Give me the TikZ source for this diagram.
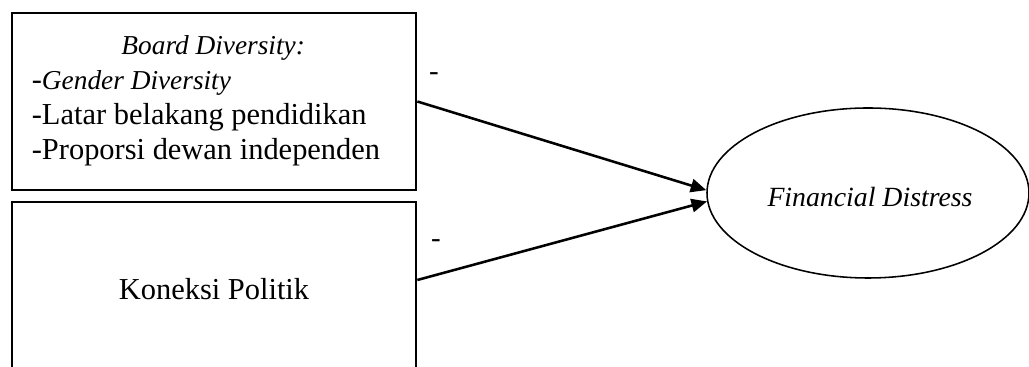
\documentclass[tikz,border=0pt]{standalone}
\usepackage{fontspec}
\setmainfont{Liberation Serif}
\usetikzlibrary{arrows.meta,shapes.geometric}
\newcommand\px{0.45pt}
\newcommand\itx[1]{{\fontsize{12.3}{15.75}\selectfont\itshape #1}}
\tikzset{
  varbox/.style={draw, line width=1.2pt, minimum width=404*\px, minimum height=177*\px, inner sep=0pt},
  latent/.style={draw, ellipse, line width=0.7pt, minimum width=322*\px, minimum height=170*\px, inner sep=0pt},
  path arrow/.style={line width=1.15pt, -{Triangle[length=7pt, width=6pt]}},
  txt/.style={font=\fontsize{13.7}{15.85}\selectfont, inner sep=0pt},
  sign/.style={font=\fontsize{13}{14}\selectfont, inner sep=0pt}
}
\begin{document}
\begin{tikzpicture}[x=\px, y=\px]
\clip (0,0) rectangle (1029,367);
% independent variables
\node[varbox] (bd) at (214,265.5) {};
\node[txt, align=left] (bdtext) at (206,267) {%
  \begin{tabular}{@{}l@{}}
  \multicolumn{1}{@{\hspace{6.5pt}}c@{}}{\itx{Board Diversity:}}\\
  -\itx{Gender Diversity}\\
  -Latar belakang pendidikan\\
  -Proporsi dewan independen
  \end{tabular}};
\node[varbox] (kp) at (214,76.5) {};
\node[txt] (kptext) at (214,78) {Koneksi Politik};
% dependent variable
\node[latent] (fd) at (868,174) {};
\node[txt, font=\fontsize{12.5}{14}\selectfont\itshape] (fdtext) at (870,170) {Financial Distress};
% paths
\draw[path arrow] (bd.east) -- (fd.179);
\draw[path arrow] ([yshift=10.5*\px]kp.east) -- (fd.183);
\node[sign] (s1) at (434,290) {-};
\node[sign] (s2) at (436,123) {-};
\end{tikzpicture}
\end{document}
